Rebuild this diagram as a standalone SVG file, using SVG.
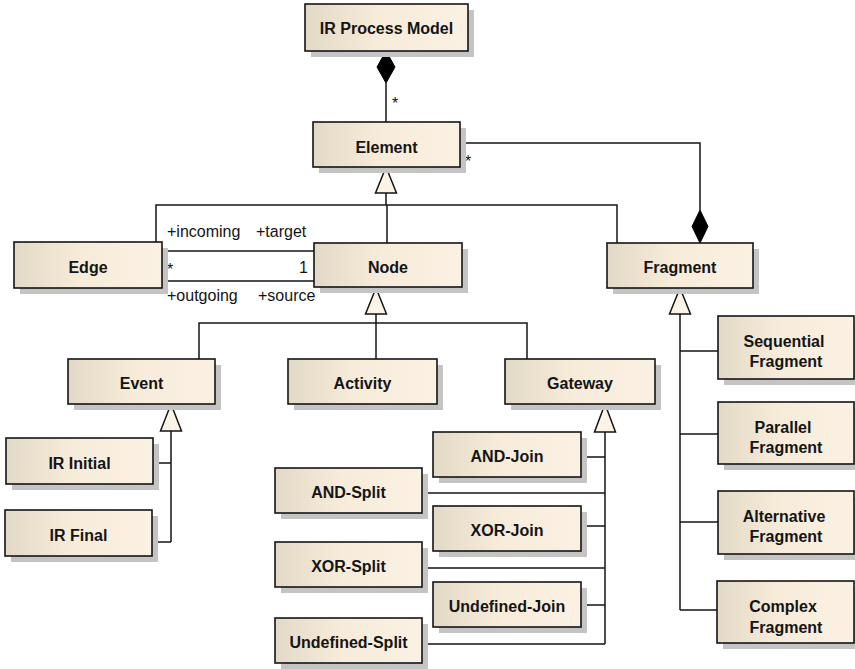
<svg xmlns="http://www.w3.org/2000/svg" width="855" height="669" viewBox="0 0 855 669">
  <style>
    .sh { fill: #c4c4c4; }
    .box { fill: url(#boxFill); stroke: #151515; stroke-width: 1.6; }
    .name { font-family: "Liberation Sans", Arial, sans-serif; font-size: 16px; font-weight: bold; fill: #141414; text-anchor: middle; }
    .role { font-family: "Liberation Sans", Arial, sans-serif; font-size: 16px; fill: #141414; }
    .ln { fill: none; stroke: #151515; stroke-width: 1.5; }
    .gen { fill: #fbf3e6; stroke: #151515; stroke-width: 1.5; stroke-linejoin: miter; }
    .comp { fill: #000; stroke: #000; stroke-width: 1; }
  </style>
  <defs>
    <linearGradient id="boxFill" x1="0" y1="0" x2="1" y2="0">
      <stop offset="0" stop-color="#e3d9c7"/>
      <stop offset="0.45" stop-color="#f7ecda"/>
      <stop offset="1" stop-color="#fbf1e3"/>
    </linearGradient>
  </defs>

  <rect width="855" height="669" fill="#ffffff"/>

  <!-- connectors -->
  <g id="connectors">
    <!-- IR Process Model composes Element -->
    <path class="ln" d="M386 83 V122"/>
    <polygon class="comp" points="386,51 395,67 386,83 377,67"/>
    <text class="role" x="392" y="109">*</text>

    <!-- Fragment composes Element -->
    <path class="ln" d="M460 143 H700 V210"/>
    <polygon class="comp" points="700,210 708,226.5 700,243 692,226.5"/>
    <text class="role" x="465" y="167">*</text>

    <!-- Edge / Node / Fragment generalise Element -->
    <path class="ln" d="M386 193 V205 M156 242 V205 H617 V243 M387 205 V243"/>
    <polygon class="gen" points="386,167 396.5,193 375.5,193"/>

    <!-- Edge - Node associations -->
    <path class="ln" d="M162 251 H314 M162 281 H314"/>
    <text class="role" x="167" y="237">+incoming</text>
    <text class="role" x="256" y="237">+target</text>
    <text class="role" x="167" y="275">*</text>
    <text class="role" x="308" y="273" text-anchor="end">1</text>
    <text class="role" x="167" y="301">+outgoing</text>
    <text class="role" x="258" y="301">+source</text>

    <!-- Event / Activity / Gateway generalise Node -->
    <path class="ln" d="M376 314 V359 M199 359 V323 H527 V359"/>
    <polygon class="gen" points="376,288 386.5,314 365.5,314"/>

    <!-- IR Initial / IR Final generalise Event -->
    <path class="ln" d="M171 431 V542 M153 463 H171 M152 542 H171"/>
    <polygon class="gen" points="171,404 181.5,431 160.5,431"/>

    <!-- Gateway specialisations -->
    <path class="ln" d="M605 432 V644 M581 457 H605 M422 493 H605 M581 526 H605 M422 568 H605 M581 605 H605 M422 644 H605"/>
    <polygon class="gen" points="605,404 615.5,432 594.5,432"/>

    <!-- Fragment specialisations -->
    <path class="ln" d="M680 314 V610 M680 351 H718 M680 434 H718 M680 522 H718 M680 610 H717"/>
    <polygon class="gen" points="680,288 690.5,314 669.5,314"/>
  </g>

  <!-- nodes -->
  <g id="irProcessModel">
    <rect class="sh" x="311" y="10" width="163" height="47"/>
    <rect class="box" x="305" y="4" width="163" height="47"/>
    <text class="name" x="386.5" y="34">IR Process Model</text>
  </g>
  <g id="element">
    <rect class="sh" x="319" y="128" width="147" height="45"/>
    <rect class="box" x="313" y="122" width="147" height="45"/>
    <text class="name" x="386.5" y="152.5">Element</text>
  </g>
  <g id="edge">
    <rect class="sh" x="20" y="248" width="148" height="46"/>
    <rect class="box" x="14" y="242" width="148" height="46"/>
    <text class="name" x="88" y="273">Edge</text>
  </g>
  <g id="node">
    <rect class="sh" x="320" y="249" width="148" height="44"/>
    <rect class="box" x="314" y="243" width="148" height="44"/>
    <text class="name" x="388" y="273">Node</text>
  </g>
  <g id="fragment">
    <rect class="sh" x="613" y="249" width="146" height="45"/>
    <rect class="box" x="607" y="243" width="146" height="45"/>
    <text class="name" x="680" y="273">Fragment</text>
  </g>
  <g id="event">
    <rect class="sh" x="74" y="365" width="147" height="45"/>
    <rect class="box" x="68" y="359" width="147" height="45"/>
    <text class="name" x="141.5" y="389">Event</text>
  </g>
  <g id="activity">
    <rect class="sh" x="294" y="365" width="149" height="45"/>
    <rect class="box" x="288" y="359" width="149" height="45"/>
    <text class="name" x="362.5" y="389">Activity</text>
  </g>
  <g id="gateway">
    <rect class="sh" x="511" y="365" width="150" height="45"/>
    <rect class="box" x="505" y="359" width="150" height="45"/>
    <text class="name" x="580" y="389">Gateway</text>
  </g>
  <g id="irInitial">
    <rect class="sh" x="12" y="444" width="147" height="46"/>
    <rect class="box" x="6" y="438" width="147" height="46"/>
    <text class="name" x="79.5" y="468.5">IR Initial</text>
  </g>
  <g id="irFinal">
    <rect class="sh" x="11" y="516" width="147" height="46"/>
    <rect class="box" x="5" y="510" width="147" height="46"/>
    <text class="name" x="78.5" y="540.5">IR Final</text>
  </g>
  <g id="andJoin">
    <rect class="sh" x="439" y="438" width="148" height="45"/>
    <rect class="box" x="433" y="432" width="148" height="45"/>
    <text class="name" x="507" y="462">AND-Join</text>
  </g>
  <g id="andSplit">
    <rect class="sh" x="281" y="474" width="147" height="45"/>
    <rect class="box" x="275" y="468" width="147" height="45"/>
    <text class="name" x="348.5" y="498">AND-Split</text>
  </g>
  <g id="xorJoin">
    <rect class="sh" x="439" y="512" width="148" height="45"/>
    <rect class="box" x="433" y="506" width="148" height="45"/>
    <text class="name" x="507" y="536">XOR-Join</text>
  </g>
  <g id="xorSplit">
    <rect class="sh" x="281" y="548" width="147" height="45"/>
    <rect class="box" x="275" y="542" width="147" height="45"/>
    <text class="name" x="348.5" y="572">XOR-Split</text>
  </g>
  <g id="undefinedJoin">
    <rect class="sh" x="439" y="588" width="148" height="45"/>
    <rect class="box" x="433" y="582" width="148" height="45"/>
    <text class="name" x="507" y="612">Undefined-Join</text>
  </g>
  <g id="undefinedSplit">
    <rect class="sh" x="281" y="624" width="147" height="45"/>
    <rect class="box" x="275" y="618" width="147" height="45"/>
    <text class="name" x="348.5" y="648">Undefined-Split</text>
  </g>
  <g id="sequentialFragment">
    <rect class="sh" x="724" y="322" width="136" height="63"/>
    <rect class="box" x="718" y="316" width="136" height="63"/>
    <text class="name" x="784" y="347">Sequential</text>
    <text class="name" x="786" y="367">Fragment</text>
  </g>
  <g id="parallelFragment">
    <rect class="sh" x="724" y="408" width="136" height="62"/>
    <rect class="box" x="718" y="402" width="136" height="62"/>
    <text class="name" x="783" y="433">Parallel</text>
    <text class="name" x="786" y="453">Fragment</text>
  </g>
  <g id="alternativeFragment">
    <rect class="sh" x="724" y="497" width="136" height="63"/>
    <rect class="box" x="718" y="491" width="136" height="63"/>
    <text class="name" x="784" y="522">Alternative</text>
    <text class="name" x="786" y="542">Fragment</text>
  </g>
  <g id="complexFragment">
    <rect class="sh" x="723" y="587" width="137" height="62"/>
    <rect class="box" x="717" y="581" width="137" height="62"/>
    <text class="name" x="783" y="612">Complex</text>
    <text class="name" x="786" y="632.5">Fragment</text>
  </g>
</svg>
